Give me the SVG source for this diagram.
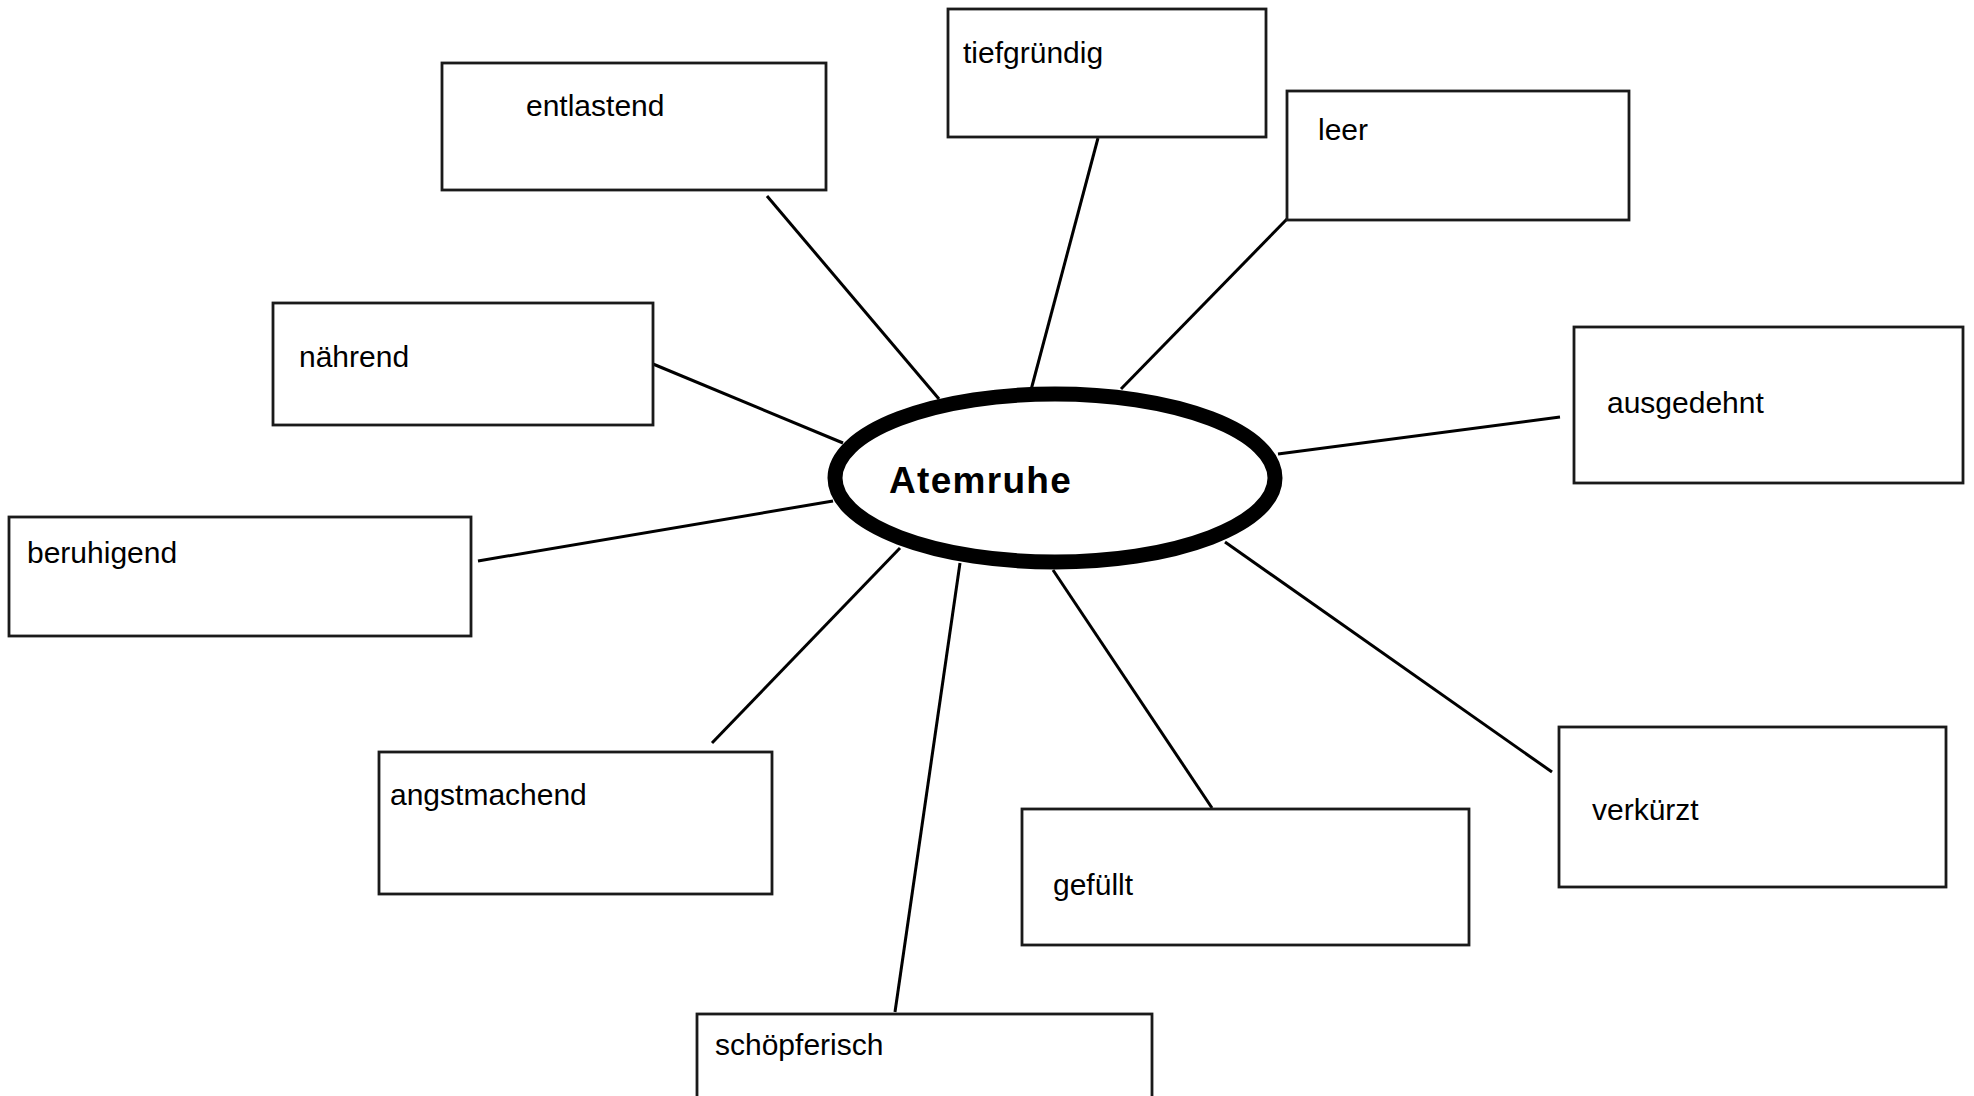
<svg xmlns="http://www.w3.org/2000/svg" width="1974" height="1096" viewBox="0 0 1974 1096">
<style>
.box{fill:#fff;stroke:#1a1a1a;stroke-width:2.8}
.lbl{font-family:"Liberation Sans",Arial,sans-serif;font-size:30px;fill:#000}
.conn line{stroke:#000;stroke-width:3;stroke-linecap:butt}
.hub{fill:#fff;stroke:#000;stroke-width:15}
.hubtxt{font-family:"Liberation Sans",Arial,sans-serif;font-size:37px;font-weight:bold;letter-spacing:1.3px;fill:#000}
</style>
<rect width="1974" height="1096" fill="#fff"/>
<g id="connectors" class="conn">
<line x1="767" y1="196" x2="939" y2="399"/>
<line x1="1098" y1="138" x2="1031" y2="390"/>
<line x1="1287" y1="219" x2="1121" y2="389"/>
<line x1="653" y1="364" x2="843" y2="443"/>
<line x1="1560" y1="417" x2="1278" y2="454"/>
<line x1="478" y1="561" x2="833" y2="501"/>
<line x1="712" y1="743" x2="900" y2="548"/>
<line x1="895" y1="1012" x2="960" y2="563"/>
<line x1="1212" y1="808" x2="1053" y2="570"/>
<line x1="1552" y1="772" x2="1225" y2="542"/>
</g>
<g id="node-atemruhe">
<ellipse class="hub" cx="1055" cy="478" rx="220" ry="84"/>
<text class="hubtxt" x="889" y="493">Atemruhe</text>
</g>
<g id="node-entlastend">
<rect class="box" x="442" y="63" width="384" height="127"/>
<text class="lbl" x="526" y="116">entlastend</text>
</g>
<g id="node-tiefgruendig">
<rect class="box" x="948" y="9" width="318" height="128"/>
<text class="lbl" x="963" y="63">tiefgründig</text>
</g>
<g id="node-leer">
<rect class="box" x="1287" y="91" width="342" height="129"/>
<text class="lbl" x="1318" y="140">leer</text>
</g>
<g id="node-naehrend">
<rect class="box" x="273" y="303" width="380" height="122"/>
<text class="lbl" x="299" y="367">nährend</text>
</g>
<g id="node-ausgedehnt">
<rect class="box" x="1574" y="327" width="389" height="156"/>
<text class="lbl" x="1607" y="413">ausgedehnt</text>
</g>
<g id="node-beruhigend">
<rect class="box" x="9" y="517" width="462" height="119"/>
<text class="lbl" x="27" y="563">beruhigend</text>
</g>
<g id="node-angstmachend">
<rect class="box" x="379" y="752" width="393" height="142"/>
<text class="lbl" x="390" y="805">angstmachend</text>
</g>
<g id="node-schoepferisch">
<rect class="box" x="697" y="1014" width="455" height="100"/>
<text class="lbl" x="715" y="1055">schöpferisch</text>
</g>
<g id="node-gefuellt">
<rect class="box" x="1022" y="809" width="447" height="136"/>
<text class="lbl" x="1053" y="895">gefüllt</text>
</g>
<g id="node-verkuerzt">
<rect class="box" x="1559" y="727" width="387" height="160"/>
<text class="lbl" x="1592" y="820">verkürzt</text>
</g>
</svg>
